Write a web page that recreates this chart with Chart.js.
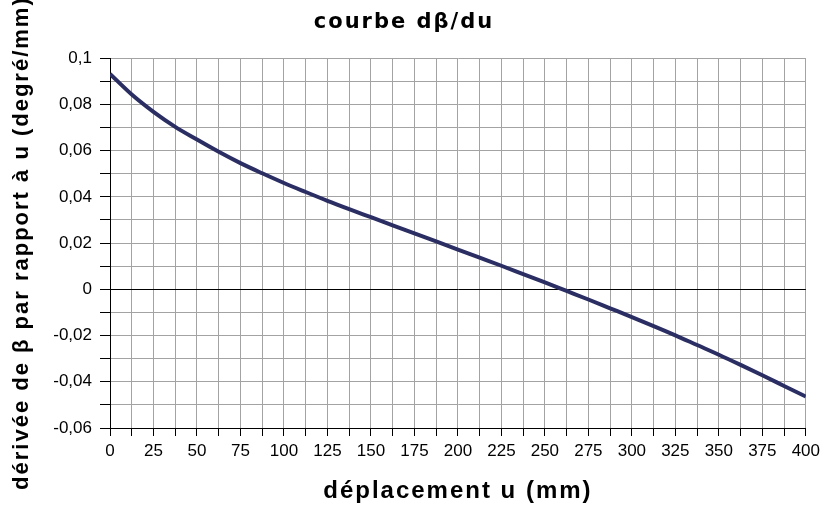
<!DOCTYPE html>
<html>
<head>
<meta charset="utf-8">
<script src="https://cdn.jsdelivr.net/npm/chart.js@4/dist/chart.umd.min.js"></script>
<style>
  html, body { margin: 0; padding: 0; background: #fff; }
  #wrap { width: 825px; height: 505px; }
</style>
</head>
<body>
<div id="wrap"><canvas id="courbe" width="825" height="505"></canvas></div>
<script>
// déplacement u (mm), one point every 12.5 mm
const uValues = [
  0, 12.5, 25, 37.5, 50, 62.5, 75, 87.5, 100, 112.5, 125, 137.5, 150,
  162.5, 175, 187.5, 200, 212.5, 225, 237.5, 250, 262.5, 275, 287.5, 300,
  312.5, 325, 337.5, 350, 362.5, 375, 387.5, 400
];

// dβ/du (degré/mm)
const dBetaValues = [
  0.0932, 0.0843, 0.0768, 0.0703, 0.0648, 0.0595, 0.0546, 0.0502, 0.0460,
  0.0421, 0.0383, 0.0347, 0.0312, 0.0277, 0.0242, 0.0207, 0.0172, 0.0137,
  0.0102, 0.0066, 0.0030, -0.0007, -0.0044, -0.0082, -0.0120, -0.0159,
  -0.0199, -0.0241, -0.0283, -0.0327, -0.0372, -0.0418, -0.0464
];

const chartTitle = "courbe dβ/du";
const xTitle = "déplacement u (mm)";
const yTitle = "dérivée de β par rapport à u (degré/mm)";

const points = uValues.map((u, i) => ({ x: u, y: dBetaValues[i] }));

// titles are letter-spaced in the original; tick labels are not
const spacing = {
  id: "spacing",
  beforeDraw: (c) => { c.ctx.letterSpacing = "2px"; },
  beforeDatasetsDraw: (c) => { c.ctx.letterSpacing = "0px"; },
};

const gridGrey = "#a3a3a3";

new Chart(document.getElementById("courbe"), {
  type: "line",
  data: {
    datasets: [{
      data: points,
      borderColor: "#2b2e63",
      borderWidth: 4,
      pointRadius: 0,
      cubicInterpolationMode: "monotone",
      fill: false,
    }],
  },
  options: {
    responsive: false,
    animation: false,
    layout: { padding: { left: 0, right: 17, top: 0, bottom: 0 } },
    plugins: {
      legend: { display: false },
      tooltip: { enabled: false },
      title: {
        display: true,
        text: chartTitle,
        color: "#000",
        font: { family: "DejaVu Sans", size: 21, weight: "bold", lineHeight: 1.2 },
        padding: { top: 10, bottom: 23 },
      },
    },
    scales: {
      x: {
        type: "linear",
        min: 0,
        max: 400,
        afterFit: (s) => { s.height = 77; },
        ticks: {
          stepSize: 12.5,
          autoSkip: false,
          maxRotation: 0,
          color: "#000",
          padding: 5,
          z: 1,
          font: { family: "Liberation Sans", size: 17 },
          callback: (v) => (v % 25 === 0 ? String(v) : ""),
        },
        grid: {
          color: gridGrey,
          tickColor: "#000",
          tickLength: 8,
          drawTicks: true,
        },
        border: { color: "#000", width: 1 },
        title: {
          display: true,
          text: xTitle,
          color: "#000",
          font: { family: "Liberation Sans", size: 24, weight: "bold", lineHeight: 1.1 },
          padding: { top: 0, bottom: 0 },
        },
      },
      y: {
        min: -0.06,
        max: 0.1,
        afterFit: (s) => { s.width = 110; },
        ticks: {
          stepSize: 0.01,
          autoSkip: false,
          color: "#000",
          padding: 8,
          z: 1,
          font: { family: "Liberation Sans", size: 17 },
          callback: (v) => {
            const k = Math.round(v * 100);
            if (k % 2 !== 0) return "";
            return String(k / 100).replace(".", ",");
          },
        },
        grid: {
          color: (ctx) => (Math.abs(ctx.tick.value) < 1e-9 ? "#000" : gridGrey),
          tickColor: "#000",
          tickLength: 10,
          drawTicks: true,
        },
        border: { color: "#000", width: 1 },
        title: {
          display: true,
          text: yTitle,
          color: "#000",
          font: { family: "Liberation Sans", size: 22, weight: "bold", lineHeight: 1.2 },
          padding: { top: 9, bottom: 0 },
        },
      },
    },
  },
  plugins: [spacing],
});
</script>
</body>
</html>
